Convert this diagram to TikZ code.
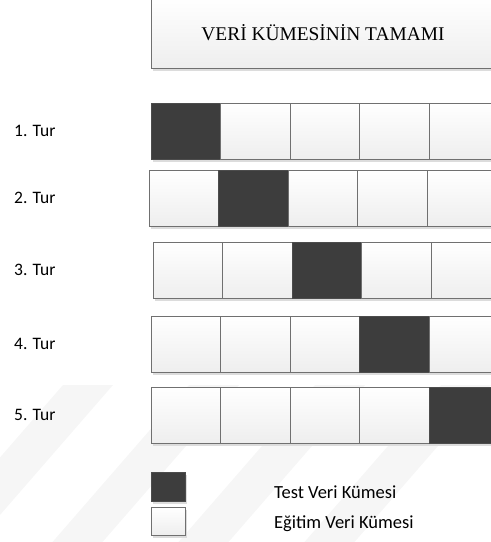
\documentclass[tikz,border=0pt]{standalone}
\usepackage{fontspec}
\setmainfont{Liberation Serif}
\newfontfamily\calibri{Carlito}
\usetikzlibrary{positioning,shadows}
\definecolor{testdark} {RGB}{61,61,61}
\definecolor{cellline} {RGB}{112,112,112}
\definecolor{cellshade}{RGB}{238,238,238}
\definecolor{cellshadow}{RGB}{220,220,220}
\definecolor{wmark}    {RGB}{246,246,246}

\begin{document}
\begin{tikzpicture}[x=1pt,y=-1pt,
  box/.style={rectangle, line width=0.9pt,
              minimum width=69.5pt, minimum height=56pt,
              inner sep=0pt, outer sep=0pt, anchor=north west,
              drop shadow={shadow xshift=2pt, shadow yshift=-3pt,
                           fill=cellshadow, opacity=1}},
  cell/.style={box, draw=cellline, top color=white, bottom color=cellshade},
  testcell/.style={box, fill=testdark, draw=testdark!70!cellline},
  lbl/.style={font=\calibri\fontsize{17.5}{20}\selectfont, anchor=west, inner sep=0pt},
  lgd/.style={font=\calibri\fontsize{18.5}{22}\selectfont, anchor=west, inner sep=0pt}
]
  \useasboundingbox (0,0) rectangle (491,542);
  \clip (0,0) rectangle (491,542);

  % watermark stripes
  \foreach \a in {63,189,315,441}
    \fill[wmark] (\a,385) -- (\a+50,385) -- (\a-86.5,542) -- (\a-136.5,542) -- cycle;

  % whole data set
  \node[cell, minimum width=344pt, minimum height=71pt,
        font=\fontsize{19.4}{22}\selectfont] (all) at (151,-3)
    {VERİ KÜMESİNİN TAMAMI};

  % folds
  \foreach \r/\lx/\ty in {1/151/103, 2/149/170, 3/153/242, 4/151/316, 5/151/387} {
    \node[lbl] (tur\r) at (14,\ty+28) {\r. Tur};
    \foreach \c in {1,...,5} {
      \ifnum\c=\r
        \node[testcell] (r\r c\c) at ({\lx+(\c-1)*69.5},\ty) {};
      \else
        \node[cell] (r\r c\c) at ({\lx+(\c-1)*69.5},\ty) {};
      \fi
    }
  }

  % legend
  \node[testcell, minimum width=34pt, minimum height=29pt] (keytest) at (151,472) {};
  \node[cell, minimum width=34pt, minimum height=28pt, below=6pt of keytest.south west, anchor=north west] (keytrain) {};
  \node[lgd] (txttest)  at (274,492) {Test Veri Kümesi};
  \node[lgd] (txttrain) at (274,524) {Eğitim Veri Kümesi};
\end{tikzpicture}
\end{document}
